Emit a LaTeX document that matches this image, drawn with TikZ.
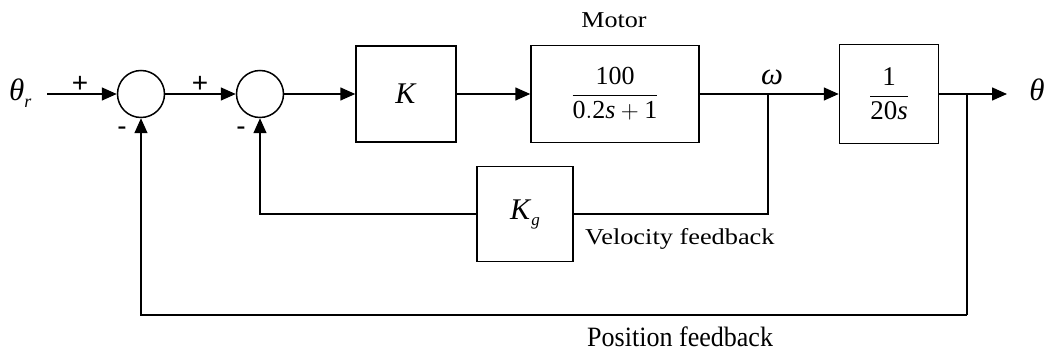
\documentclass[tikz,border=0pt]{standalone}
\usepackage{amsmath}
\usepackage{fontspec}
\setmainfont{Liberation Serif}
\newfontfamily\plusfont{Liberation Sans}
\usetikzlibrary{arrows.meta}
\begin{document}
\begin{tikzpicture}[x=1pt,y=-1pt,
  blk/.style={draw,line width=1.5pt,rectangle,inner sep=0pt},
  sumc/.style={draw,line width=1.5pt,circle,minimum size=47pt,inner sep=0pt},
  sig/.style={line width=1.5pt,-{Triangle[length=15pt,width=13pt]}},
  wire/.style={line width=1.5pt},
  lbl/.style={font=\fontsize{22.7}{26}\selectfont,inner sep=0pt},
  sym/.style={font=\fontsize{31}{34}\selectfont,inner sep=0pt},
  sgn/.style={font=\plusfont\fontsize{28}{30}\selectfont,inner sep=0pt}]
\useasboundingbox (0,0) rectangle (1047,352);
\node[sumc] (s1) at (141,94) {};
\node[sumc] (s2) at (260,94) {};
\node[blk,minimum width=100pt,minimum height=96pt] (K) at (406,94) {\fontsize{30}{34}\selectfont\textit{K}};
\node[blk,minimum width=168pt,minimum height=97pt] (M) at (615,94) {\fontsize{26}{30}\selectfont$\dfrac{\mathrm{100}}{\mathrm{0.2}\mathit{s}+\mathrm{1}}$};
\node[blk,minimum width=99pt,minimum height=99pt] (I) at (889,94) {\fontsize{27}{30}\selectfont$\dfrac{\mathrm{1}}{\mathrm{20}\mathit{s}}$};
\node[blk,minimum width=96pt,minimum height=95pt] (G) at (525,214) {\fontsize{30}{34}\selectfont\textit{K}\raisebox{-6pt}{\fontsize{17}{18}\selectfont\textit{g}}};
\coordinate (in) at (47,94);
\coordinate (out) at (1007,94);
\coordinate (w) at (768,94);
\coordinate (th) at (967,94);
\coordinate (pb) at (967,315);
\draw[sig] (in) -- (s1.west);
\draw[sig] (s1.east) -- (s2.west);
\draw[sig] (s2.east) -- (K.west);
\draw[sig] (K.east) -- (M.west);
\draw[sig] (M.east) -- (I.west);
\draw[sig] (I.east) -- (out);
\draw[wire] (w) |- (G.east);
\draw[sig] (G.west) -| (s2.south);
\draw[wire] (th) -- (pb);
\draw[sig] (pb) -| (s1.south);
\node[sym,anchor=base west] (tr) at (9,101) {\textit{θ}\raisebox{-7pt}{\fontsize{18}{18}\selectfont\textit{r}}};
\node[sgn] (p1) at (80,84) {+};
\node[sgn] (p2) at (200,84) {+};
\node[sgn] (m1) at (122,131) {-};
\node[sgn] (m2) at (241,131) {-};
\node[lbl,anchor=base] (mot) at (614,28) {\scalebox{1.15}[1]{Motor}};
\node[sym] (om) at (772,77) {\textit{ω}};
\node[sym] (th2) at (1037,90) {\textit{θ}};
\node[lbl,anchor=base west] (vf) at (585,245) {\scalebox{1.16}[1]{Velocity feedback}};
\node[lbl,anchor=base west,font=\fontsize{28}{30}\selectfont] (pf) at (587,347) {\scalebox{0.93}[1]{Position feedback}};
\end{tikzpicture}
\end{document}
